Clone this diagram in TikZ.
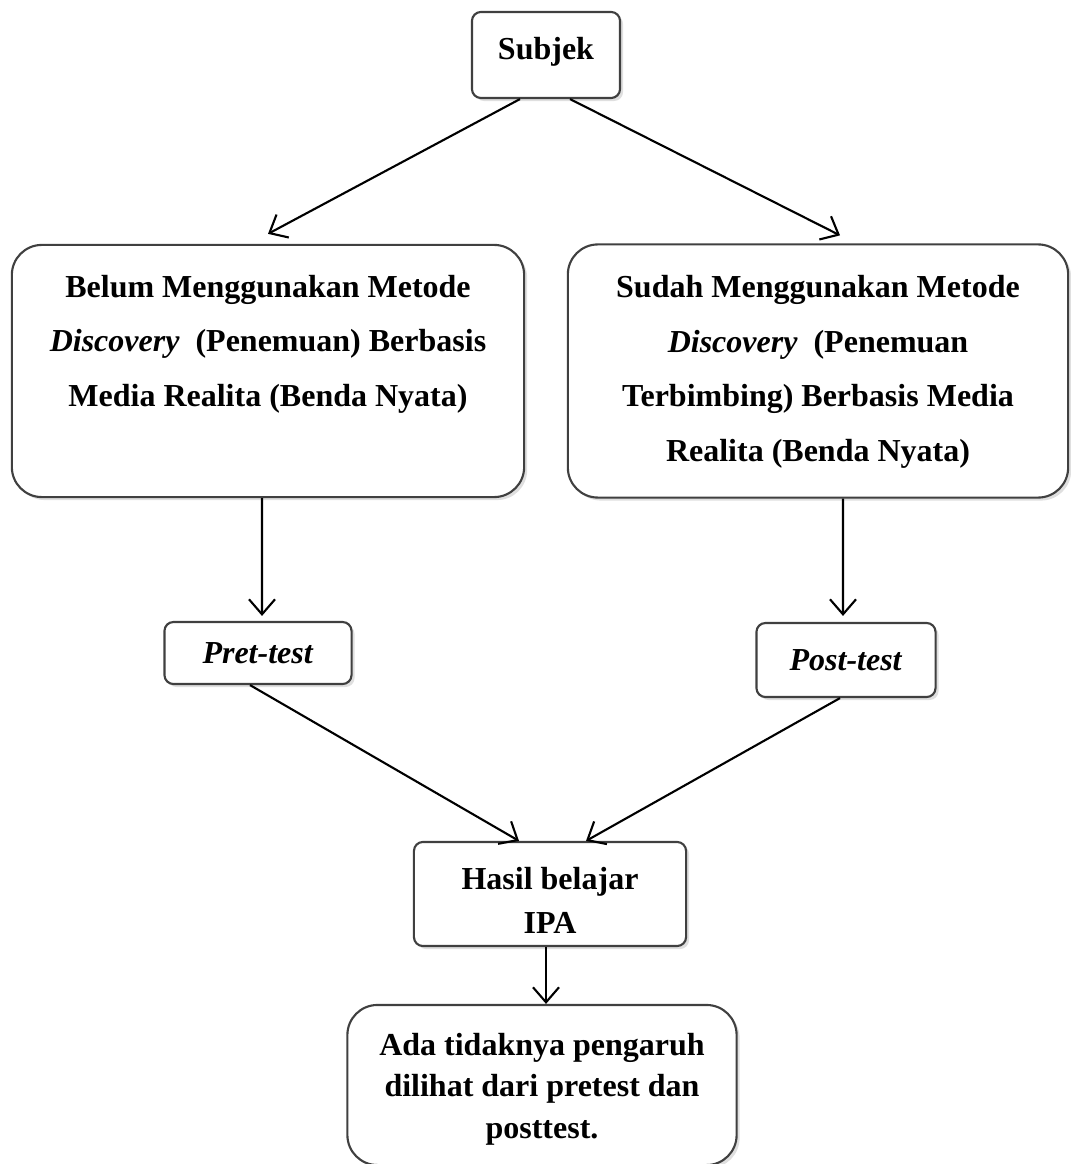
\documentclass[tikz,border=0pt]{standalone}
\usepackage{fontspec}
\setmainfont{Liberation Serif}
\usetikzlibrary{arrows.meta,shadows}
\begin{document}
\begin{tikzpicture}[x=0.01cm,y=-0.01cm,
  box/.style={draw=black!75, line width=0.6pt, fill=white,
    drop shadow={opacity=0.25, shadow xshift=0.03cm, shadow yshift=-0.03cm},
    inner sep=0pt},
  bigbox/.style={box, rounded corners=0.3cm},
  smallbox/.style={box, rounded corners=0.09cm},
  txt/.style={align=center, font=\fontsize{9.1}{15.5}\selectfont\bfseries, inner sep=0pt},
  tighttxt/.style={align=center, font=\fontsize{9.1}{12.0}\selectfont\bfseries, inner sep=0pt},
  arr/.style={-{Straight Barb[length=0.15cm,width=0.26cm]}, line width=0.6pt, black}
]
\useasboundingbox (0,0) rectangle (1071,1164);
\clip (0,0) rectangle (1071,1164);

\node[smallbox, minimum width=1.48cm, minimum height=0.86cm] (subj) at (546,55) {};
\node[txt] (subjt) at (546,52) {Subjek};

\node[bigbox, minimum width=5.12cm, minimum height=2.52cm] (left) at (268,371) {};
\node[txt] (leftt) at (268,344) {Belum Menggunakan Metode\\ \textit{Discovery}\ \ (Penemuan) Berbasis\\ Media Realita (Benda Nyata)};

\node[bigbox, minimum width=5.00cm, minimum height=2.53cm] (right) at (818,371) {};
\node[txt] (rightt) at (818,372) {Sudah Menggunakan Metode\\ \textit{Discovery}\ \ (Penemuan\\ Terbimbing) Berbasis Media\\ Realita (Benda Nyata)};

\node[smallbox, minimum width=1.87cm, minimum height=0.62cm] (pre) at (258,653) {};
\node[txt] (pret) at (258,653) {\textit{Pret-test}};

\node[smallbox, minimum width=1.79cm, minimum height=0.74cm] (post) at (846,660) {};
\node[txt] (postt) at (846,660) {\textit{Post-test}};

\node[smallbox, minimum width=2.72cm, minimum height=1.04cm] (hasil) at (550,894) {};
\node[tighttxt, font=\fontsize{9.1}{12.5}\selectfont\bfseries] (hasilt) at (550,900) {Hasil belajar\\ IPA};

\node[bigbox, minimum width=3.89cm, minimum height=1.60cm] (concl) at (542,1085) {};
\node[tighttxt, font=\fontsize{9.1}{11.8}\selectfont\bfseries] (conclt) at (542,1089) {Ada tidaknya pengaruh\\ dilihat dari pretest dan\\ posttest.};

\coordinate (hs) at ([xshift=-0.04cm]hasil.south);
\draw[arr] ([xshift=-0.26cm]subj.south) -- ([yshift=0.10cm]left.north);
\draw[arr] ([xshift=0.24cm]subj.south) -- ([xshift=0.22cm,yshift=0.08cm]right.north);
\draw[arr] ([xshift=-0.06cm]left.south) -- ([xshift=0.04cm,yshift=0.05cm]pre.north);
\draw[arr] ([xshift=0.25cm]right.south) -- ([xshift=-0.03cm,yshift=0.06cm]post.north);
\draw[arr] ([xshift=-0.08cm]pre.south) -- ([xshift=-0.31cm]hasil.north);
\draw[arr] ([xshift=-0.06cm]post.south) -- ([xshift=0.36cm]hasil.north);
\draw[arr] (hs) -- (hs |- concl.north);
\end{tikzpicture}
\end{document}
